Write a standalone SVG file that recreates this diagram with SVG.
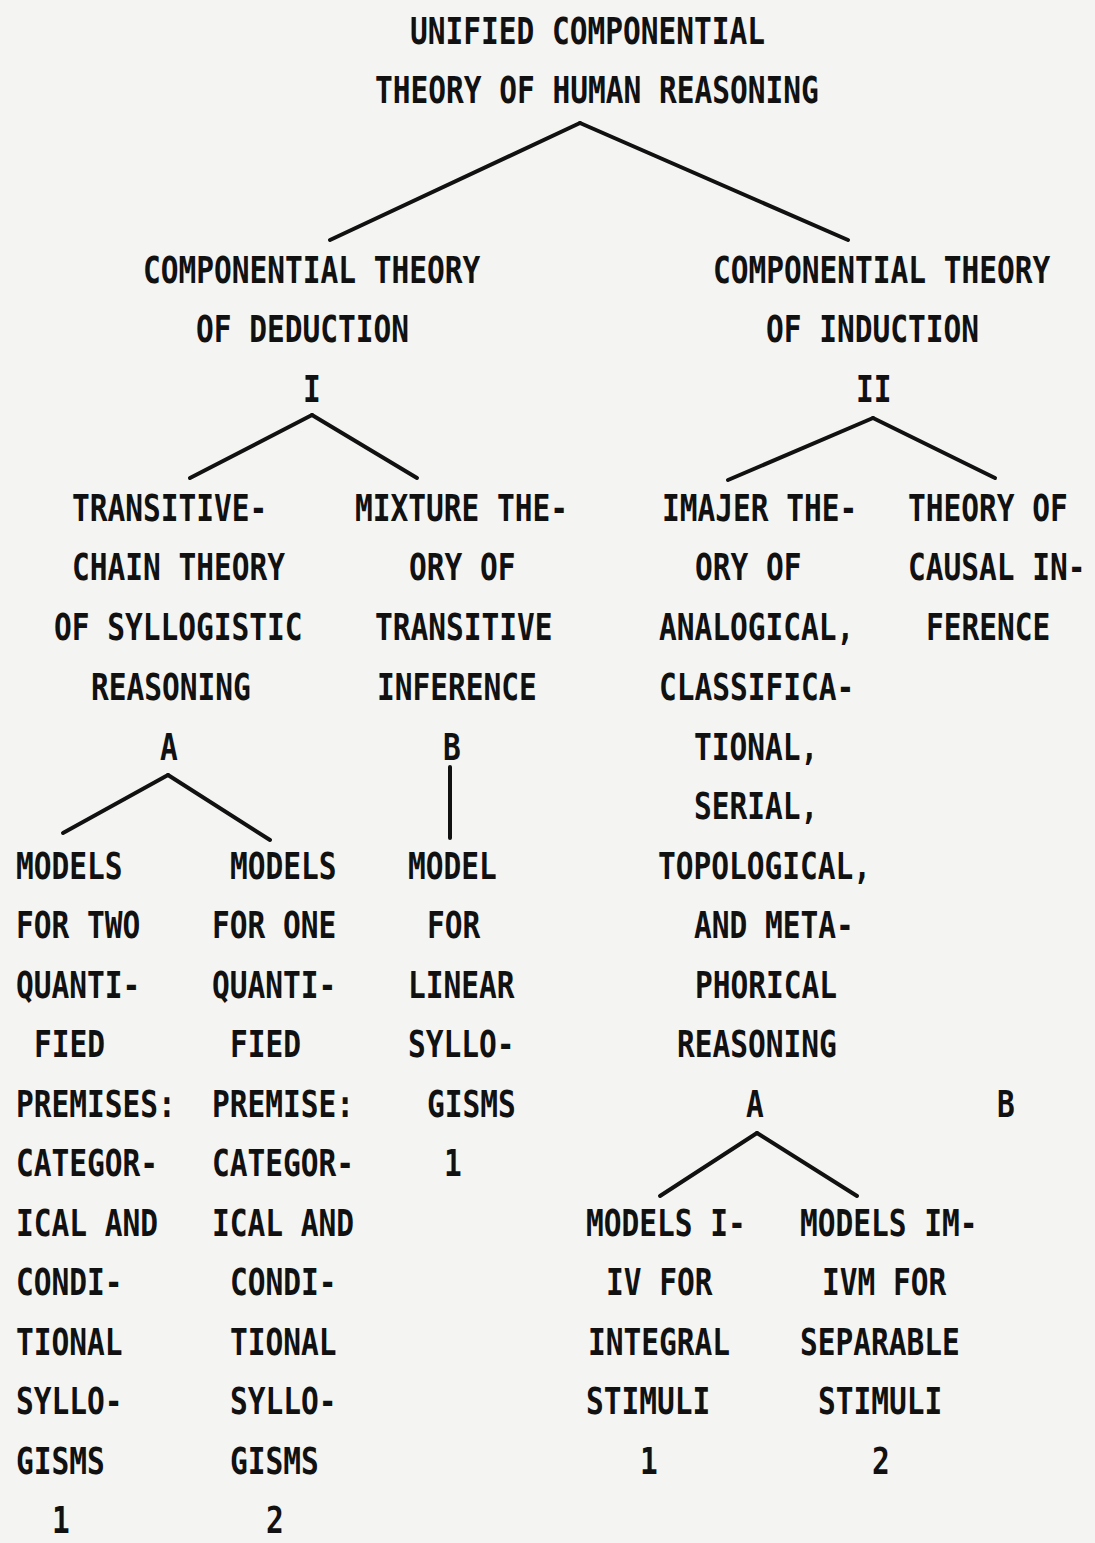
<svg xmlns="http://www.w3.org/2000/svg" width="1095" height="1543" viewBox="0 0 1095 1543">
<style>
text{font-family:"DejaVu Sans Mono","Liberation Mono",monospace;font-size:29.5px;font-weight:bold;fill:#111;}
.c line{stroke:#111;stroke-width:4;stroke-linecap:round;}
</style>
<rect width="1095" height="1543" fill="#f4f4f2"/>
<g id="connectors" class="c">
<line x1="580" y1="123" x2="330" y2="240"/>
<line x1="580" y1="123" x2="848" y2="240"/>
<line x1="312" y1="415" x2="190" y2="478"/>
<line x1="312" y1="415" x2="417" y2="478"/>
<line x1="873" y1="418" x2="728" y2="480"/>
<line x1="873" y1="418" x2="995" y2="478"/>
<line x1="168" y1="775" x2="63" y2="833"/>
<line x1="168" y1="775" x2="270" y2="840"/>
<line x1="450" y1="767" x2="450" y2="838"/>
<line x1="757" y1="1133" x2="660" y2="1196"/>
<line x1="757" y1="1133" x2="857" y2="1196"/>
</g>
<g id="root" transform="scale(1,1.25)">
<text x="410" y="35.2">UNIFIED COMPONENTIAL</text>
<text x="375" y="82.4">THEORY OF HUMAN REASONING</text>
</g>
<g id="deduction" transform="scale(1,1.25)">
<text x="143" y="226.4">COMPONENTIAL THEORY</text>
<text x="196" y="273.6">OF DEDUCTION</text>
<text x="303" y="321.6">I</text>
</g>
<g id="induction" transform="scale(1,1.25)">
<text x="713" y="226.4">COMPONENTIAL THEORY</text>
<text x="766" y="273.6">OF INDUCTION</text>
<text x="856" y="321.6">II</text>
</g>
<g id="transitive-chain" transform="scale(1,1.25)">
<text x="72" y="416.8">TRANSITIVE-</text>
<text x="72" y="464">CHAIN THEORY</text>
<text x="54" y="512">OF SYLLOGISTIC</text>
<text x="91" y="560">REASONING</text>
<text x="160" y="608">A</text>
</g>
<g id="mixture" transform="scale(1,1.25)">
<text x="355" y="416.8">MIXTURE THE-</text>
<text x="409" y="464">ORY OF</text>
<text x="375" y="512">TRANSITIVE</text>
<text x="377" y="560">INFERENCE</text>
<text x="443" y="608">B</text>
</g>
<g id="imajer" transform="scale(1,1.25)">
<text x="662" y="416.8">IMAJER THE-</text>
<text x="695" y="464">ORY OF</text>
<text x="659" y="512">ANALOGICAL,</text>
<text x="659" y="560">CLASSIFICA-</text>
<text x="694" y="608">TIONAL,</text>
<text x="694" y="655.2">SERIAL,</text>
<text x="658" y="703.2">TOPOLOGICAL,</text>
<text x="694" y="750.4">AND META-</text>
<text x="695" y="798.4">PHORICAL</text>
<text x="677" y="845.6">REASONING</text>
<text x="746" y="893.6">A</text>
</g>
<g id="causal" transform="scale(1,1.25)">
<text x="908" y="416.8">THEORY OF</text>
<text x="908" y="464">CAUSAL IN-</text>
<text x="926" y="512">FERENCE</text>
<text x="997" y="893.6">B</text>
</g>
<g id="models-two" transform="scale(1,1.25)">
<text x="16" y="703.2">MODELS</text>
<text x="16" y="750.4">FOR TWO</text>
<text x="16" y="798.4">QUANTI-</text>
<text x="34" y="845.6">FIED</text>
<text x="16" y="893.6">PREMISES:</text>
<text x="16" y="940.8">CATEGOR-</text>
<text x="16" y="988.8">ICAL AND</text>
<text x="16" y="1036">CONDI-</text>
<text x="16" y="1084">TIONAL</text>
<text x="16" y="1131.2">SYLLO-</text>
<text x="16" y="1179.2">GISMS</text>
<text x="52" y="1226.4">1</text>
</g>
<g id="models-one" transform="scale(1,1.25)">
<text x="230" y="703.2">MODELS</text>
<text x="212" y="750.4">FOR ONE</text>
<text x="212" y="798.4">QUANTI-</text>
<text x="230" y="845.6">FIED</text>
<text x="212" y="893.6">PREMISE:</text>
<text x="212" y="940.8">CATEGOR-</text>
<text x="212" y="988.8">ICAL AND</text>
<text x="230" y="1036">CONDI-</text>
<text x="230" y="1084">TIONAL</text>
<text x="230" y="1131.2">SYLLO-</text>
<text x="230" y="1179.2">GISMS</text>
<text x="266" y="1226.4">2</text>
</g>
<g id="model-linear" transform="scale(1,1.25)">
<text x="408" y="703.2">MODEL</text>
<text x="427" y="750.4">FOR</text>
<text x="408" y="798.4">LINEAR</text>
<text x="408" y="845.6">SYLLO-</text>
<text x="427" y="893.6">GISMS</text>
<text x="444" y="940.8">1</text>
</g>
<g id="models-integral" transform="scale(1,1.25)">
<text x="586" y="988.8">MODELS I-</text>
<text x="606" y="1036">IV FOR</text>
<text x="588" y="1084">INTEGRAL</text>
<text x="586" y="1131.2">STIMULI</text>
<text x="640" y="1179.2">1</text>
</g>
<g id="models-separable" transform="scale(1,1.25)">
<text x="800" y="988.8">MODELS IM-</text>
<text x="822" y="1036">IVM FOR</text>
<text x="800" y="1084">SEPARABLE</text>
<text x="818" y="1131.2">STIMULI</text>
<text x="872" y="1179.2">2</text>
</g>
</svg>
